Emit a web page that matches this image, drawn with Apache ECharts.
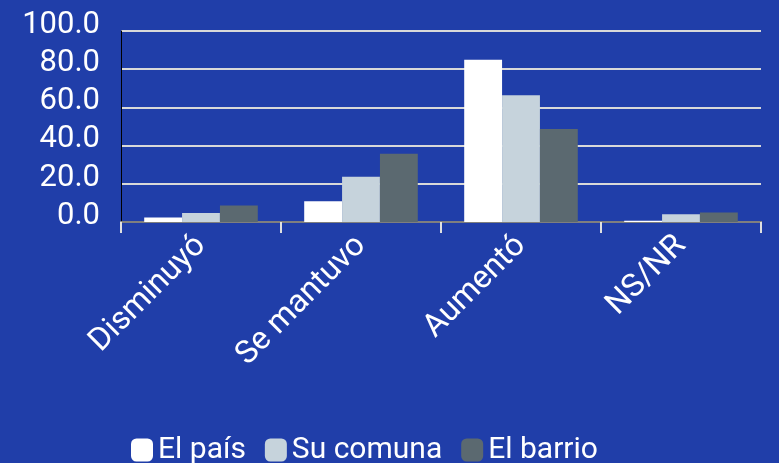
<!DOCTYPE html>
<html><head><meta charset="utf-8">
<script src="https://cdn.jsdelivr.net/npm/echarts@6/dist/echarts.min.js"></script>
<style>html,body{margin:0;padding:0;background:#203ea9;}#c{width:779px;height:463px;}</style>
</head><body><div id="c"></div>
<script>
const categories = ['Disminuyó', 'Se mantuvo', 'Aumentó', 'NS/NR'];
const seriesNames = ['El país', 'Su comuna', 'El barrio'];
const elPais = [2.4, 10.8, 85.0, 0.6];
const suComuna = [4.7, 23.7, 66.3, 4.0];
const elBarrio = [8.7, 35.7, 48.7, 5.0];
const colors = ['#ffffff', '#c6d3dc', '#5b6970'];
const values = [elPais, suComuna, elBarrio];

const chart = echarts.init(document.getElementById('c'));
const font = 'Roboto';
chart.setOption({
  backgroundColor: '#203ea9',
  animation: false,
  textStyle: { fontFamily: font },
  grid: { left: 121, right: 18, top: 31, bottom: 241, containLabel: false },
  legend: {
    left: 131, top: 435, padding: 0,
    itemWidth: 22, itemHeight: 23, itemGap: 19,
    icon: 'roundRect',
    textStyle: { color: '#ffffff', fontSize: 30, fontFamily: font, padding: [0, 0, 0, 0] },
    data: seriesNames
  },
  xAxis: [{
    type: 'category', data: categories, offset: 3,
    axisLine: { lineStyle: { color: '#e0e0e0', width: 2 } },
    axisTick: { show: true, length: 11, lineStyle: { color: '#e0e0e0', width: 2 } },
    axisLabel: { color: '#ffffff', fontSize: 32, rotate: 45, margin: 16, fontFamily: font }
  }, {
    type: 'category', data: categories, position: 'bottom', offset: 0,
    axisLine: { lineStyle: { color: '#7f7f7f', width: 2 } },
    axisTick: { show: false }, axisLabel: { show: false }
  }],
  yAxis: {
    type: 'value', min: 0, max: 100, interval: 20,
    axisLine: { show: true, lineStyle: { color: '#000000', width: 1 } },
    axisTick: { show: false },
    axisLabel: { color: '#ffffff', fontSize: 31, margin: 21, fontFamily: font,
      formatter: v => v.toFixed(1), verticalAlign: 'bottom', lineHeight: 12 },
    splitLine: { show: true, lineStyle: { color: '#d9d9d9', width: 2 } }
  },
  series: seriesNames.map((n, i) => ({
    name: n, type: 'bar', data: values[i],
    itemStyle: { color: colors[i] },
    barGap: '0%', barCategoryGap: '29%'
  }))
});
</script></body></html>
